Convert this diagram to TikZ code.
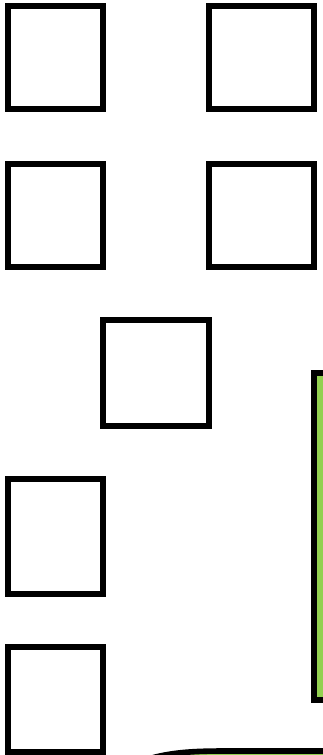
\documentclass[tikz,border=0pt]{standalone}
\begin{document}
\begin{tikzpicture}[x=1pt,y=-1pt,
  box/.style={draw=black,line width=5.6pt,fill=white,minimum width=#1,inner sep=0pt,outer sep=0pt},
  gbox/.style={draw=black,line width=5.6pt,fill=greenfill,inner sep=0pt,outer sep=0pt}]
\definecolor{greenfill}{HTML}{92D050}
\useasboundingbox (0,0) rectangle (323,755);
\clip (0,0) rectangle (323,755);
\node[box=95pt,minimum height=103pt] (b1) at (55.5,57.5) {};
\node[box=105pt,minimum height=103pt] (b2) at (261.5,57.5) {};
\node[box=95pt,minimum height=103pt] (b3) at (55.5,215.5) {};
\node[box=105pt,minimum height=103pt] (b4) at (261.5,215.5) {};
\node[box=106pt,minimum height=106pt] (b5) at (156,373) {};
\node[box=95pt,minimum height=115pt] (b6) at (55.5,536.5) {};
\node[box=95pt,minimum height=105pt] (b7) at (55.5,699.5) {};
\node[gbox,minimum width=40pt,minimum height=327pt] (g1) at (334,536.5) {};
\draw[line width=5.6pt,fill=greenfill] (140,762) .. controls (165,752) and (195,751) .. (225,751) -- (345,751) -- (345,780) -- (140,780) -- cycle;
\end{tikzpicture}
\end{document}
